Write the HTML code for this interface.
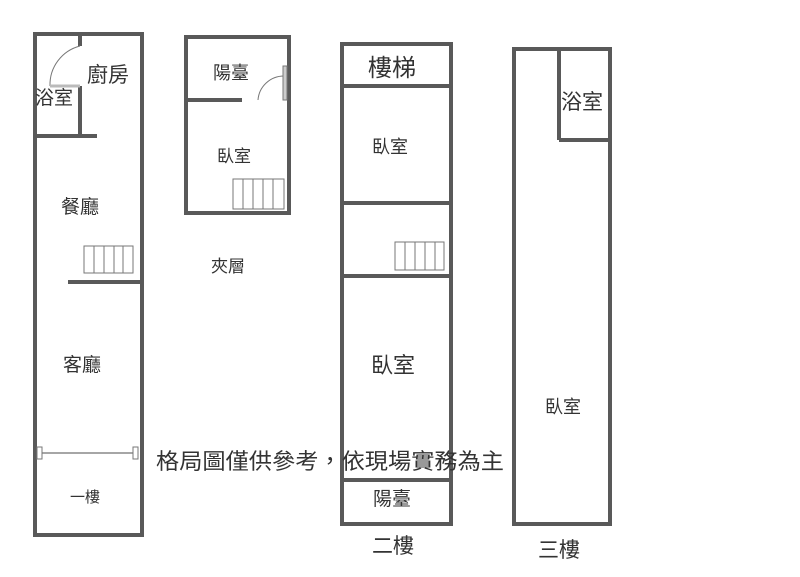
<!DOCTYPE html>
<html><head><meta charset="utf-8"><style>
html,body{margin:0;padding:0;background:#fff;}
svg{display:block}
text{font-family:"Liberation Sans","Noto Sans CJK TC",sans-serif;fill:#333;}
</style></head><body>
<svg width="800" height="577" viewBox="0 0 800 577" xmlns="http://www.w3.org/2000/svg">
<g stroke="#595959" stroke-width="4" fill="none">
<rect x="35" y="34" width="107" height="501"/>
<line x1="80" y1="34" x2="80" y2="46"/>
<line x1="80" y1="86" x2="80" y2="136"/>
<line x1="35" y1="136" x2="97" y2="136"/>
<line x1="68" y1="282" x2="142" y2="282"/>
<rect x="186" y="37" width="103" height="176"/>
<line x1="186" y1="100" x2="242" y2="100"/>
<rect x="342" y="44" width="109" height="480"/>
<line x1="342" y1="86" x2="451" y2="86"/>
<line x1="342" y1="203" x2="451" y2="203"/>
<line x1="342" y1="276" x2="451" y2="276"/>
<line x1="342" y1="480" x2="451" y2="480"/>
<rect x="514" y="49" width="96" height="475"/>
<line x1="559" y1="49" x2="559" y2="140"/>
<line x1="559" y1="140" x2="610" y2="140"/>
</g>
<g stroke="#777" stroke-width="1" fill="none">
<path d="M80 46 A40 40 0 0 0 50 86"/>
<line x1="50" y1="86" x2="80" y2="86" stroke="#bbb" stroke-width="3"/>
<path d="M284 76 A26 26 0 0 0 258 100"/>
<rect x="283" y="66" width="4" height="34" fill="#ccc"/>
<rect x="84" y="246" width="49" height="27"/>
<line x1="94" y1="246" x2="94" y2="273"/><line x1="104" y1="246" x2="104" y2="273"/><line x1="114" y1="246" x2="114" y2="273"/><line x1="123" y1="246" x2="123" y2="273"/>
<rect x="233" y="179" width="51" height="30"/>
<line x1="243" y1="179" x2="243" y2="209"/><line x1="253" y1="179" x2="253" y2="209"/><line x1="263" y1="179" x2="263" y2="209"/><line x1="273" y1="179" x2="273" y2="209"/>
<rect x="395" y="242" width="49" height="28"/>
<line x1="405" y1="242" x2="405" y2="270"/><line x1="415" y1="242" x2="415" y2="270"/><line x1="425" y1="242" x2="425" y2="270"/><line x1="435" y1="242" x2="435" y2="270"/>
<line x1="40" y1="453" x2="136" y2="453" stroke="#888" stroke-width="1.5"/>
<rect x="37" y="447" width="5" height="12" fill="#fff"/>
<rect x="133" y="447" width="5" height="12" fill="#fff"/>
</g>
<text x="87" y="82" font-size="21">廚房</text>
<text x="35" y="104" font-size="19">浴室</text>
<text x="61" y="213" font-size="19">餐廳</text>
<text x="63" y="371" font-size="19">客廳</text>
<text x="70" y="502" font-size="15">一樓</text>
<text x="213" y="79" font-size="18">陽臺</text>
<text x="217" y="162" font-size="17">臥室</text>
<text x="211" y="272" font-size="17">夾層</text>
<text x="368" y="76" font-size="24">樓梯</text>
<text x="372" y="153" font-size="18">臥室</text>
<text x="371" y="373" font-size="22">臥室</text>
<text x="373" y="505" font-size="19">陽臺</text>
<text x="372" y="553" font-size="21">二樓</text>
<text x="561" y="109" font-size="21">浴室</text>
<text x="545" y="413" font-size="18">臥室</text>
<text x="538" y="557" font-size="21">三樓</text>
<text x="156" y="469" font-size="22" textLength="348" lengthAdjust="spacingAndGlyphs">格局圖僅供參考，依現場實務為主</text>
</svg>
</body></html>
